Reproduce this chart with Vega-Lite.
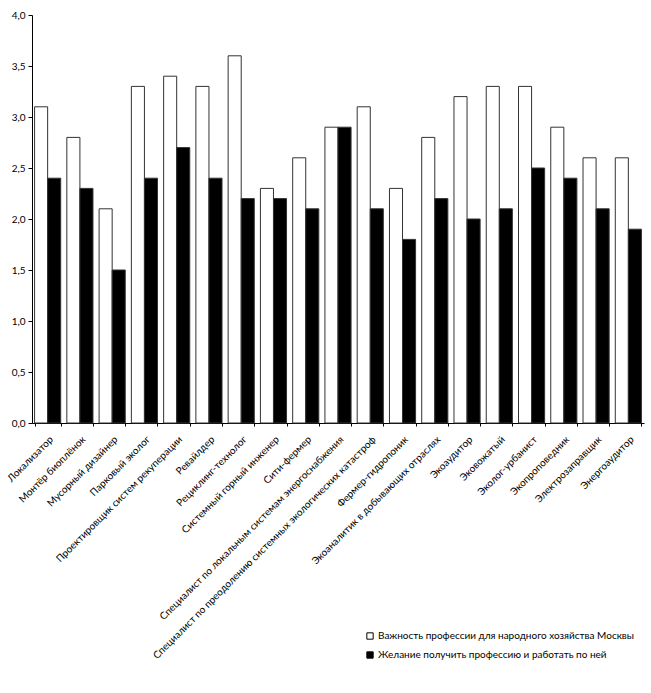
{
  "$schema": "https://vega.github.io/schema/vega-lite/v6.json",
  "description": "Grouped bars: importance of eco professions for Moscow vs. wish to work in them.",
  "autosize": "none",
  "width": 612,
  "height": 408,
  "padding": {"left": 32, "top": 15, "right": 7, "bottom": 270},
  "background": "white",
  "config": {
    "font": "Lato",
    "view": {"stroke": null},
    "axis": {"labelColor": "black", "domainColor": "black", "tickColor": "black", "labelFont": "Lato", "labelFontSize": 10, "grid": false}
  },
  "data": {
    "values": [
      {"profession": "Локализатор", "series": "Важность профессии для народного хозяйства Москвы", "score": 3.1},
      {"profession": "Локализатор", "series": "Желание получить профессию и работать по ней", "score": 2.4},
      {"profession": "Монтёр биоплёнок", "series": "Важность профессии для народного хозяйства Москвы", "score": 2.8},
      {"profession": "Монтёр биоплёнок", "series": "Желание получить профессию и работать по ней", "score": 2.3},
      {"profession": "Мусорный дизайнер", "series": "Важность профессии для народного хозяйства Москвы", "score": 2.1},
      {"profession": "Мусорный дизайнер", "series": "Желание получить профессию и работать по ней", "score": 1.5},
      {"profession": "Парковый эколог", "series": "Важность профессии для народного хозяйства Москвы", "score": 3.3},
      {"profession": "Парковый эколог", "series": "Желание получить профессию и работать по ней", "score": 2.4},
      {"profession": "Проектировщик систем рекуперации", "series": "Важность профессии для народного хозяйства Москвы", "score": 3.4},
      {"profession": "Проектировщик систем рекуперации", "series": "Желание получить профессию и работать по ней", "score": 2.7},
      {"profession": "Ревайлдер", "series": "Важность профессии для народного хозяйства Москвы", "score": 3.3},
      {"profession": "Ревайлдер", "series": "Желание получить профессию и работать по ней", "score": 2.4},
      {"profession": "Рециклинг-технолог", "series": "Важность профессии для народного хозяйства Москвы", "score": 3.6},
      {"profession": "Рециклинг-технолог", "series": "Желание получить профессию и работать по ней", "score": 2.2},
      {"profession": "Системный горный инженер", "series": "Важность профессии для народного хозяйства Москвы", "score": 2.3},
      {"profession": "Системный горный инженер", "series": "Желание получить профессию и работать по ней", "score": 2.2},
      {"profession": "Сити-фермер", "series": "Важность профессии для народного хозяйства Москвы", "score": 2.6},
      {"profession": "Сити-фермер", "series": "Желание получить профессию и работать по ней", "score": 2.1},
      {"profession": "Специалист по локальным системам энергоснабжения", "series": "Важность профессии для народного хозяйства Москвы", "score": 2.9},
      {"profession": "Специалист по локальным системам энергоснабжения", "series": "Желание получить профессию и работать по ней", "score": 2.9},
      {"profession": "Специалист по преодолению системных экологических катастроф", "series": "Важность профессии для народного хозяйства Москвы", "score": 3.1},
      {"profession": "Специалист по преодолению системных экологических катастроф", "series": "Желание получить профессию и работать по ней", "score": 2.1},
      {"profession": "Фермер-гидропоник", "series": "Важность профессии для народного хозяйства Москвы", "score": 2.3},
      {"profession": "Фермер-гидропоник", "series": "Желание получить профессию и работать по ней", "score": 1.8},
      {"profession": "Экоаналитик в добывающих отраслях", "series": "Важность профессии для народного хозяйства Москвы", "score": 2.8},
      {"profession": "Экоаналитик в добывающих отраслях", "series": "Желание получить профессию и работать по ней", "score": 2.2},
      {"profession": "Экоаудитор", "series": "Важность профессии для народного хозяйства Москвы", "score": 3.2},
      {"profession": "Экоаудитор", "series": "Желание получить профессию и работать по ней", "score": 2.0},
      {"profession": "Эковожатый", "series": "Важность профессии для народного хозяйства Москвы", "score": 3.3},
      {"profession": "Эковожатый", "series": "Желание получить профессию и работать по ней", "score": 2.1},
      {"profession": "Эколог-урбанист", "series": "Важность профессии для народного хозяйства Москвы", "score": 3.3},
      {"profession": "Эколог-урбанист", "series": "Желание получить профессию и работать по ней", "score": 2.5},
      {"profession": "Экопроповедник", "series": "Важность профессии для народного хозяйства Москвы", "score": 2.9},
      {"profession": "Экопроповедник", "series": "Желание получить профессию и работать по ней", "score": 2.4},
      {"profession": "Электрозаправщик", "series": "Важность профессии для народного хозяйства Москвы", "score": 2.6},
      {"profession": "Электрозаправщик", "series": "Желание получить профессию и работать по ней", "score": 2.1},
      {"profession": "Энергоаудитор", "series": "Важность профессии для народного хозяйства Москвы", "score": 2.6},
      {"profession": "Энергоаудитор", "series": "Желание получить профессию и работать по ней", "score": 1.9}
    ]
  },
  "mark": {"type": "bar", "stroke": "#333333", "strokeWidth": 1},
  "encoding": {
    "x": {
      "field": "profession",
      "type": "nominal",
      "sort": null,
      "title": null,
      "scale": {"paddingInner": 0.19, "paddingOuter": 0.08},
      "axis": {"labelAngle": -45, "labelLimit": 0, "tickBand": "extent", "tickSize": 3, "labelPadding": 8}
    },
    "xOffset": {
      "field": "series",
      "type": "nominal",
      "sort": ["Важность профессии для народного хозяйства Москвы", "Желание получить профессию и работать по ней"],
      "scale": {"paddingInner": 0, "paddingOuter": 0}
    },
    "y": {
      "field": "score",
      "type": "quantitative",
      "title": null,
      "scale": {"domain": [0, 4]},
      "axis": {"values": [0, 0.5, 1, 1.5, 2, 2.5, 3, 3.5, 4], "labelExpr": "replace(format(datum.value, '.1f'), '.', ',')", "tickSize": 4, "labelPadding": 3}
    },
    "fill": {
      "field": "series",
      "type": "nominal",
      "scale": {"domain": ["Важность профессии для народного хозяйства Москвы", "Желание получить профессию и работать по ней"], "range": ["white", "black"]},
      "legend": {
        "title": null,
        "orient": "none",
        "legendX": 333,
        "legendY": 616,
        "symbolType": "square",
        "symbolSize": 40,
        "symbolStrokeColor": "black",
        "symbolStrokeWidth": 1,
        "labelFontSize": 10,
        "labelLimit": 0,
        "labelOffset": 3,
        "rowPadding": 7
      }
    }
  }
}
